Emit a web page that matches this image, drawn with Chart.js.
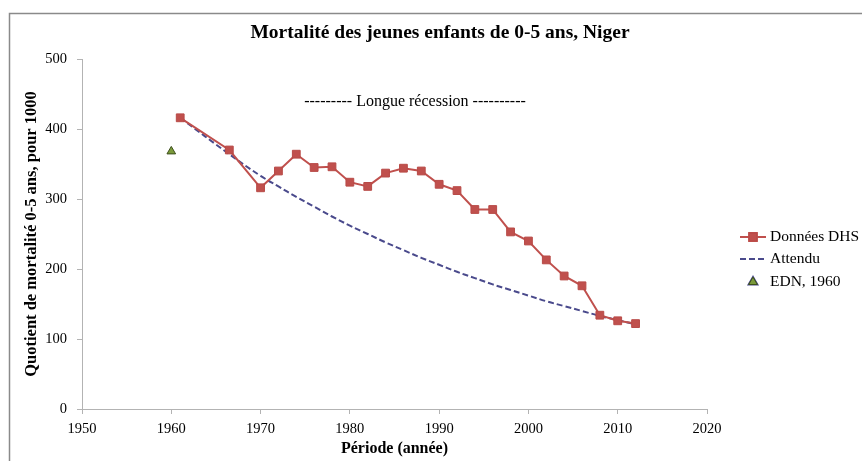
<!DOCTYPE html>
<html>
<head>
<meta charset="utf-8">
<title>Mortalité des jeunes enfants de 0-5 ans, Niger</title>
<script src="https://cdn.jsdelivr.net/npm/chart.js@4.4.0/dist/chart.umd.min.js"></script>
<style>
  html, body { margin: 0; padding: 0; background: #fff; }
  #wrap { width: 862px; height: 461px; }
</style>
</head>
<body>
<div id="wrap"><canvas id="chart" width="862" height="461"></canvas></div>
<script>
// data
var dhsYears = [1961, 1966.5, 1970, 1972, 1974, 1976, 1978, 1980, 1982, 1984, 1986, 1988,
  1990, 1992, 1994, 1996, 1998, 2000, 2002, 2004, 2006, 2008, 2010, 2012];
var dhsValues = [416, 370, 316, 340, 364, 345, 346, 324, 318, 337, 344, 340,
  321, 312, 285, 285, 253, 240, 213, 190, 176, 134, 126, 122];

var expectedYears = [1961, 1966.5, 1970, 1972, 1974, 1976, 1978, 1980, 1982, 1984, 1986, 1988,
  1990, 1992, 1994, 1996, 1998, 2000, 2002, 2004, 2006, 2008, 2010, 2012];
var expectedValues = [416, 364, 333, 318, 303, 289, 275, 262, 250, 238, 227, 216,
  206, 196, 187, 178, 170, 162, 154, 147, 140, 133, 127, 121];

var ednYears = [1960];
var ednValues = [368];

var xTicks = [1950, 1960, 1970, 1980, 1990, 2000, 2010, 2020];
var yTicks = [0, 100, 200, 300, 400, 500];

var seriesLabels = ['Données DHS', 'Attendu', 'EDN, 1960'];
var noteText = '--------- Longue récession ----------';
var notePos = { x: 1987.3, y: 439 };

var serif = '"Liberation Serif", "Times New Roman", serif';

function toPoints(xs, ys) {
  var pts = [];
  for (var i = 0; i < xs.length; ++i) {
    pts.push({ x: xs[i], y: ys[i] });
  }
  return pts;
}

// grey frame round the chart, white paper
var framePlugin = {
  id: 'frame',
  beforeDraw: function (chart) {
    var ctx = chart.ctx;
    ctx.save();
    ctx.fillStyle = '#ffffff';
    ctx.fillRect(0, 0, chart.width, chart.height);
    ctx.strokeStyle = '#8a8a8a';
    ctx.lineWidth = 1.5;
    ctx.strokeRect(9.5, 13.5, chart.width + 20, chart.height + 20);
    ctx.restore();
  }
};

// "Longue récession" note, placed in data units
var notePlugin = {
  id: 'note',
  afterDatasetsDraw: function (chart) {
    var ctx = chart.ctx;
    var x = chart.scales.x.getPixelForValue(notePos.x);
    var y = chart.scales.y.getPixelForValue(notePos.y);
    ctx.save();
    ctx.font = '16px ' + serif;
    ctx.fillStyle = '#000';
    ctx.textAlign = 'center';
    ctx.textBaseline = 'middle';
    ctx.fillText(noteText, x, y);
    ctx.restore();
  }
};

// excel-like legend: line sample with marker in the middle
var sideLegendPlugin = {
  id: 'sideLegend',
  afterDraw: function (chart) {
    var ctx = chart.ctx;
    var x0 = 740, x1 = 766, tx = 770;
    var rows = [237, 259, 282];
    ctx.save();
    for (var i = 0; i < chart.data.datasets.length; ++i) {
      var ds = chart.data.datasets[i];
      var y = rows[i];
      if (ds.showLine !== false) {
        ctx.strokeStyle = ds.borderColor;
        ctx.lineWidth = ds.borderWidth;
        ctx.setLineDash(ds.borderDash || []);
        ctx.beginPath();
        ctx.moveTo(x0, y);
        ctx.lineTo(x1, y);
        ctx.stroke();
        ctx.setLineDash([]);
      }
      if (ds.pointRadius > 0) {
        Chart.helpers.drawPoint(ctx, {
          pointStyle: ds.pointStyle,
          radius: ds.pointRadius,
          borderWidth: 1,
          rotation: 0
        }, (x0 + x1) / 2, y);
        ctx.fillStyle = ds.pointBackgroundColor;
        ctx.strokeStyle = ds.pointBorderColor;
        ctx.lineWidth = 1;
        ctx.fill();
        ctx.stroke();
      }
      ctx.font = '15.5px ' + serif;
      ctx.fillStyle = '#000';
      ctx.textAlign = 'left';
      ctx.textBaseline = 'middle';
      ctx.fillText(ds.label, tx, y);
    }
    ctx.restore();
  }
};

var ctx = document.getElementById('chart').getContext('2d');
var chart = new Chart(ctx, {
  type: 'line',
  data: {
    datasets: [
      {
        label: seriesLabels[0],
        data: toPoints(dhsYears, dhsValues),
        borderColor: '#c0504d',
        backgroundColor: '#c0504d',
        borderWidth: 2,
        tension: 0,
        pointStyle: 'rect',
        pointRadius: 5.5,
        pointBackgroundColor: '#c0504d',
        pointBorderColor: '#b84a47',
        pointBorderWidth: 1,
      },
      {
        label: seriesLabels[1],
        data: toPoints(expectedYears, expectedValues),
        borderColor: '#4a4a8c',
        backgroundColor: '#4a4a8c',
        borderWidth: 2,
        borderDash: [6, 3],
        tension: 0.4,
        pointRadius: 0,
      },
      {
        label: seriesLabels[2],
        data: toPoints(ednYears, ednValues),
        showLine: false,
        pointStyle: 'triangle',
        pointRadius: 5,
        borderColor: '#3d4f1c',
        pointBackgroundColor: '#7a9a3a',
        pointBorderColor: '#3d4f1c',
        pointBorderWidth: 1,
      },
    ],
  },
  options: {
    responsive: false,
    animation: false,
    layout: { padding: { left: 18, right: 0, top: 0, bottom: 0 } },
    plugins: {
      legend: { display: false },
      tooltip: { enabled: false },
      title: {
        display: true,
        text: 'Mortalité des jeunes enfants de 0-5 ans, Niger',
        color: '#000',
        font: { family: serif, size: 19.5, weight: 'bold' },
        padding: { top: 21, bottom: 14.6 },
      },
    },
    scales: {
      x: {
        type: 'linear',
        min: xTicks[0],
        max: xTicks[xTicks.length - 1],
        afterBuildTicks: function (scale) {
          scale.ticks = xTicks.map(function (v) { return { value: v }; });
        },
        afterFit: function (scale) {
          scale.height = 52;
        },
        ticks: {
          color: '#000',
          font: { family: serif, size: 14.5 },
          padding: 6,
          maxRotation: 0,
          callback: function (v) { return String(v); },
        },
        grid: { drawOnChartArea: false, drawTicks: true, tickLength: 5, color: '#b3b3b3' },
        border: { display: true, color: '#b3b3b3' },
        title: {
          display: true,
          text: 'Période (année)',
          color: '#000',
          font: { family: serif, size: 16, weight: 'bold' },
          padding: { top: 0, bottom: 3 },
        },
      },
      y: {
        type: 'linear',
        position: 'left',
        min: yTicks[0],
        max: yTicks[yTicks.length - 1],
        afterBuildTicks: function (scale) {
          scale.ticks = yTicks.map(function (v) { return { value: v }; });
        },
        afterFit: function (scale) {
          scale.width = 64;
        },
        ticks: {
          color: '#000',
          font: { family: serif, size: 14.5 },
          padding: 10,
        },
        grid: { drawOnChartArea: false, drawTicks: true, tickLength: 5, color: '#b3b3b3' },
        border: { display: true, color: '#b3b3b3' },
        title: {
          display: true,
          text: 'Quotient de mortalité 0-5 ans, pour 1000',
          color: '#000',
          font: { family: serif, size: 16.5, weight: 'bold' },
          padding: { top: 4, bottom: 0 },
        },
      },
      // empty axis that only keeps room for the legend on the right
      legendRoom: {
        type: 'linear',
        position: 'right',
        display: true,
        afterFit: function (scale) {
          scale.width = 155;
        },
        ticks: { display: false },
        grid: { display: false },
        border: { display: false },
        title: { display: false },
      },
    },
  },
  plugins: [framePlugin, notePlugin, sideLegendPlugin],
});
</script>
</body>
</html>
